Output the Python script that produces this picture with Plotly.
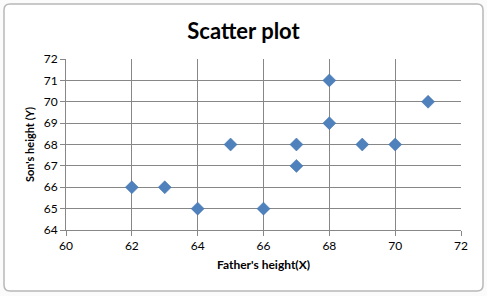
import plotly.graph_objects as go

father = [62, 63, 64, 65, 66, 67, 67, 68, 68, 69, 70, 71]
son = [66, 66, 65, 68, 65, 68, 67, 71, 69, 68, 68, 70]
x_ticks = [60, 62, 64, 66, 68, 70, 72]
y_ticks = [64, 65, 66, 67, 68, 69, 70, 71, 72]

W, H = 487, 296
L, R, T, B = 66, 26, 59, 66
pw, ph = W - L - R, H - T - B

def px(x):
    return (x - L) / pw

def py(y):
    return (H - B - y) / ph

fig = go.Figure()
fig.add_trace(go.Scatter(
    x=father, y=son, mode="markers",
    marker=dict(symbol="diamond", size=10, color="#4F81BD",
                line=dict(width=0.5, color="#3F6FA8")),
    hoverinfo="x+y", showlegend=False))

gridc = "#878787"
fig.update_xaxes(range=[60, 72], tickvals=x_ticks, showgrid=True, gridcolor=gridc,
                 gridwidth=1, showline=True, linecolor=gridc, ticks="outside",
                 ticklen=5, tickcolor=gridc, zeroline=False, mirror=False,
                 tickfont=dict(family="Lato, Open Sans, sans-serif", size=12, color="#000"),
                 title=dict(text="<b>Father's height(X)</b>", standoff=8,
                            font=dict(family="Lato, Open Sans, sans-serif", size=12, color="#000")))
fig.update_yaxes(range=[64, 72], tickvals=y_ticks, showgrid=True, gridcolor=gridc,
                 gridwidth=1, showline=True, linecolor=gridc, ticks="outside",
                 ticklen=5, tickcolor=gridc, zeroline=False,
                 tickfont=dict(family="Lato, Open Sans, sans-serif", size=12, color="#000"),
                 title=dict(text="<b>Son's height (Y)</b>", standoff=6,
                            font=dict(family="Lato, Open Sans, sans-serif", size=11, color="#000")))

# Excel chart frame (rounded rectangle)
x0, x1, y0, y1, r = px(4), px(483), py(4), py(291), 6 / pw
ry = 6 / ph
path = (f"M {x0+r},{y0} L {x1-r},{y0} Q {x1},{y0} {x1},{y0-ry} "
        f"L {x1},{y1+ry} Q {x1},{y1} {x1-r},{y1} L {x0+r},{y1} "
        f"Q {x0},{y1} {x0},{y1+ry} L {x0},{y0-ry} Q {x0},{y0} {x0+r},{y0} Z")
fig.add_shape(type="path", path=path, xref="paper", yref="paper",
              line=dict(color="#B8B8B8", width=1.5), fillcolor="white", layer="below")

fig.update_layout(
    width=W, height=H,
    margin=dict(l=L, r=R, t=T, b=B),
    paper_bgcolor="#FBFBFB", plot_bgcolor="white",
    title=dict(text="<b>Scatter plot</b>", x=0.5, xanchor="center", y=1 - 31 / H,
               yanchor="middle",
               font=dict(family="Lato, Open Sans, sans-serif", size=22, color="#000")),
)
fig.write_html("out.html")
